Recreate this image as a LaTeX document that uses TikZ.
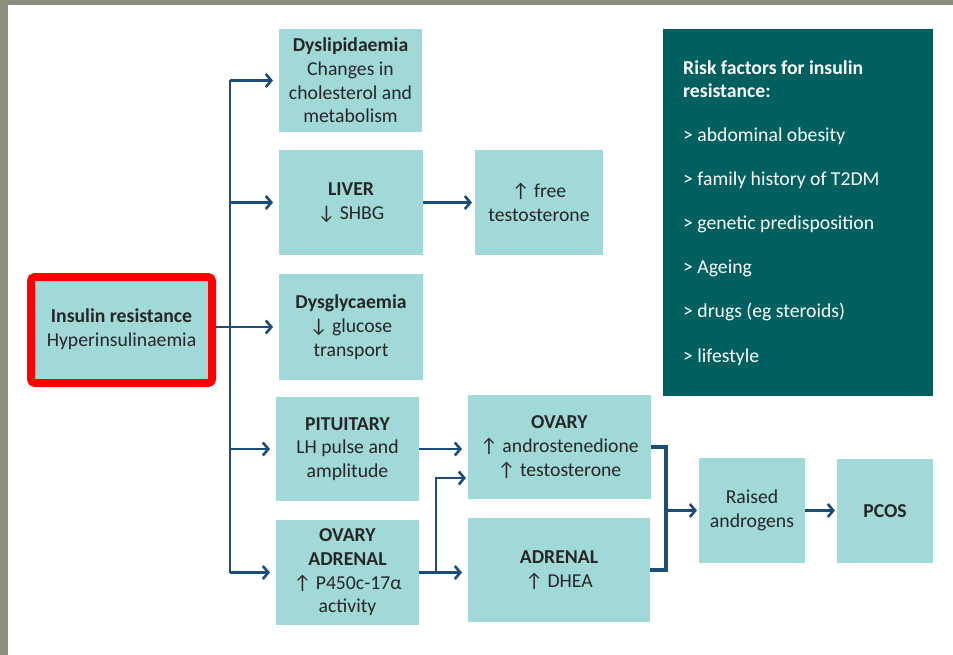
\documentclass[tikz,border=0pt]{standalone}
\usepackage{fontspec}
\setmainfont{Carlito}
\usetikzlibrary{arrows.meta}
\definecolor{boxfill}{HTML}{A1D9D8}
\definecolor{txt}{HTML}{262626}
\definecolor{arr}{HTML}{1B4D78}
\definecolor{riskfill}{HTML}{005F5F}
\definecolor{bord}{HTML}{8A8F80}
\definecolor{redb}{HTML}{FF0000}
\begin{document}
\begin{tikzpicture}[x=1pt,y=-1pt,
  box/.style={fill=boxfill, text=txt, align=center, inner sep=0pt, outer sep=0pt,
    anchor=north west, font=\fontsize{19.7}{23.7}\selectfont},
  lineconn/.style={draw=arr, line width=2.5pt},
  conn/.style={lineconn, shorten >=6pt, -{Straight Barb[length=5.5pt,width=13pt,line width=2.6pt]}},
  bracket/.style={draw=arr, line width=3.2pt},
]
\useasboundingbox (0,0) rectangle (953,655);
\fill[bord] (0,0) rectangle (953,655);
\fill[white] (8,5) rectangle (953,655);

% coordinates for connector routing
\coordinate (tr) at (230,0);
\coordinate (b2) at (436,478);
\coordinate (bk) at (666,0);

% boxes
\node[box, minimum width=143pt, minimum height=103pt] (dys) at (279,29)
  {\textbf{Dyslipidaemia}\\Changes in\\cholesterol and\\metabolism};
\node[box, minimum width=144pt, minimum height=105pt] (liver) at (279,150)
  {\textbf{LIVER}\\↓ SHBG};
\node[box, minimum width=128pt, minimum height=105pt] (free) at (475,150)
  {↑ free\\testosterone};
\node[box, minimum width=144pt, minimum height=106pt] (dysg) at (279,274)
  {\textbf{Dysglycaemia}\\↓ glucose\\transport};
\node[box, minimum width=143pt, minimum height=104pt] (pit) at (276,397)
  {\textbf{PITUITARY}\\LH pulse and\\amplitude};
\node[box, minimum width=143pt, minimum height=105pt] (oa) at (276,520)
  {\textbf{OVARY}\\\textbf{ADRENAL}\\↑ P450c-17α\\activity};
\node[box, minimum width=183pt, minimum height=104pt] (ovary) at (468,395)
  {\textbf{OVARY}\\↑ androstenedione\\↑ testosterone};
\node[box, minimum width=182pt, minimum height=104pt] (adr) at (468,518)
  {\textbf{ADRENAL}\\↑ DHEA};
\node[box, minimum width=106pt, minimum height=105pt] (raised) at (699,458)
  {Raised\\androgens};
\node[box, minimum width=96pt, minimum height=104pt] (pcos) at (837,459)
  {\textbf{PCOS}};

% connectors (drawn before the insulin box so its border covers the start)
\draw[lineconn] (dys.west -| tr) -- (oa.west -| tr);
\draw[conn] (dys.west -| tr) -- (dys.west);
\draw[conn] (liver.west -| tr) -- (liver.west);
\draw[conn] (pit.west -| tr) -- (pit.west);
\draw[conn] (oa.west -| tr) -- (oa.west);
\draw[conn, shorten >=3pt] (liver.east) -- (liver.east -| free.west);
\draw[conn] (pit.east) -- (pit.east -| ovary.west);
\draw[conn] (oa.east) -- (oa.east -| adr.west);
\draw[conn, shorten >=2pt] (oa.east -| b2) -- (b2) -- (b2 -| ovary.west);
\draw[bracket] (ovary.east) -- (ovary.east -| bk) -- (adr.east -| bk) -- (adr.east);
\draw[conn, shorten >=2pt] (raised.west -| bk) -- (raised.west);
\draw[conn, shorten >=2pt] (raised.east) -- (raised.east -| pcos.west);

\coordinate (insout) at (210,327);
\draw[conn] (insout) -- (insout -| dysg.west);

% insulin box with red border
\node[box, draw=redb, line width=8pt, rounded corners=4pt,
  minimum width=181pt, minimum height=106pt] (ins) at (31,277)
  {\raisebox{4pt}{\begin{tabular}{@{}c@{}}\textbf{Insulin resistance}\\Hyperinsulinaemia\end{tabular}}};

% risk factors box
\node[box, fill=riskfill, minimum width=270pt, minimum height=367pt] (risk) at (663,29) {};
\node[anchor=base west, inner sep=0pt, align=left, text=white,
  font=\fontsize{19.7}{23.7}\selectfont] (risktxt) at (683,362)
  {\textbf{Risk factors for insulin}\\\textbf{resistance:}\\[19.5pt]
   > abdominal obesity\\[20.5pt]
   > family history of T2DM\\[20.5pt]
   > genetic predisposition\\[20.5pt]
   > Ageing\\[20.5pt]
   > drugs (eg steroids)\\[20.5pt]
   > lifestyle};
\end{tikzpicture}
\end{document}
